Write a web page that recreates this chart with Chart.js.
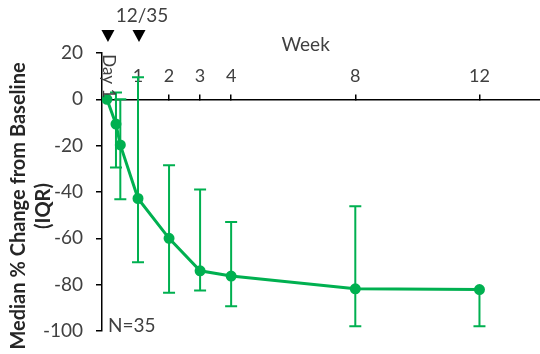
<!DOCTYPE html>
<html>
<head>
<meta charset="utf-8">
<script src="https://cdn.jsdelivr.net/npm/chart.js@4"></script>
<style>
  body { margin: 0; background: #fff; }
  canvas { display: block; }
</style>
</head>
<body>
<canvas id="myChart" width="540" height="354"></canvas>
<script>
// values
const weeks = [0, 0.29, 0.43, 1, 2, 3, 4, 8, 12];
const medianChange = [0, -10.7, -19.7, -42.8, -60, -74, -76.3, -81.8, -82.1];
const upperQuartile = [null, 2.9, 0, 9.5, -28.4, -38.9, -52.9, -46.1, -82.1];
const lowerQuartile = [null, -29.4, -43.1, -70.3, -83.5, -82.5, -89.3, -98, -98];
const weekTicks = [1, 2, 3, 4, 8, 12];
const yTicks = [20, 0, -20, -40, -60, -80, -100];
const doseWeeks = [0, 1];
const doseLabel = "12/35";
const nLabel = "N=35";
const dayLabel = "Day 1";
const xTitle = "Week";
const yTitle = ["Median % Change from Baseline", "(IQR)"];

const green = "#00b050";
const textColor = "#404040";
const fontName = "Lato";

const annotations = {
  id: "annotations",
  beforeDatasetsDraw: (chart) => {
    const { ctx } = chart;
    const xs = chart.scales.x;
    const ys = chart.scales.y;
    ctx.save();
    ctx.strokeStyle = green;
    ctx.lineWidth = 2;
    weeks.forEach((w, i) => {
      if (lowerQuartile[i] === null) return;
      const px = xs.getPixelForValue(w);
      const top = ys.getPixelForValue(upperQuartile[i]);
      const bottom = ys.getPixelForValue(lowerQuartile[i]);
      ctx.beginPath();
      ctx.moveTo(px, top);
      ctx.lineTo(px, bottom);
      if (upperQuartile[i] !== medianChange[i]) {
        ctx.moveTo(px - 6, top);
        ctx.lineTo(px + 6, top);
      }
      ctx.moveTo(px - 6, bottom);
      ctx.lineTo(px + 6, bottom);
      ctx.stroke();
    });
    ctx.restore();
  },
  afterDraw: (chart) => {
    const { ctx, chartArea } = chart;
    const xs = chart.scales.x;
    const ys = chart.scales.y;
    const zero = ys.getPixelForValue(0);
    ctx.save();
    ctx.fillStyle = "#000";
    doseWeeks.forEach((w) => {
      const px = xs.getPixelForValue(w) + 1;
      ctx.beginPath();
      ctx.moveTo(px - 6.5, 30);
      ctx.lineTo(px + 6.5, 30);
      ctx.lineTo(px, 42);
      ctx.closePath();
      ctx.fill();
    });
    ctx.fillStyle = textColor;
    ctx.font = `19px ${fontName}`;
    ctx.textAlign = "center";
    ctx.textBaseline = "middle";
    ctx.fillText(doseLabel, xs.getPixelForValue(doseWeeks[1]) + 4, 16);
    ctx.fillText(xTitle, xs.getPixelForValue(6.4), chartArea.top - 8);
    ctx.textAlign = "left";
    ctx.fillText(nLabel, chartArea.left + 6, chartArea.bottom - 5);

    // y axis title, two lines, rotated
    ctx.save();
    ctx.translate(19, (chartArea.top + chartArea.bottom) / 2 + 14);
    ctx.rotate(-Math.PI / 2);
    ctx.textAlign = "center";
    ctx.fillStyle = "#262626";
    ctx.font = `bold 20px ${fontName}`;
    yTitle.forEach((line, i) => ctx.fillText(line, 0, i * 25));
    ctx.restore();

    ctx.translate(xs.getPixelForValue(0) + 2, zero - 23);
    ctx.rotate(Math.PI / 2);
    ctx.textAlign = "center";
    ctx.font = `17px ${fontName}`;
    ctx.fillText(dayLabel, 0, 0);
    ctx.restore();
  }
};

new Chart(document.getElementById("myChart"), {
  type: "line",
  data: {
    datasets: [
      {
        data: weeks.map((w, i) => ({ x: w, y: medianChange[i] })),
        borderColor: green,
        backgroundColor: green,
        borderWidth: 3,
        pointRadius: 4,
        pointHoverRadius: 4,
        tension: 0,
      },
    ],
  },
  options: {
    responsive: false,
    animation: false,
    devicePixelRatio: 1,
    layout: { autoPadding: false, padding: { top: 53, right: 0, bottom: 23, left: 0 } },
    plugins: { legend: { display: false }, tooltip: { enabled: false } },
    scales: {
      x: {
        type: "linear",
        position: { y: 0 },
        min: -0.16,
        max: 13.95,
        afterBuildTicks: (s) => {
          s.ticks = weekTicks.map((v) => ({ value: v }));
        },
        afterFit: (s) => {
          s.paddingLeft = 0;
          s.paddingRight = 0;
        },
        grid: { drawOnChartArea: false, drawTicks: true, tickLength: -6, color: "#000", lineWidth: 1.5 },
        border: { display: true, color: "#000", width: 1.5 },
        ticks: { padding: -28, color: textColor, font: { family: fontName, size: 18 }, maxRotation: 0, autoSkip: false },
      },
      y: {
        min: -100,
        max: 20,
        afterBuildTicks: (s) => {
          s.ticks = yTicks.map((v) => ({ value: v }));
        },
        afterFit: (s) => {
          s.width = 102;
          s.paddingTop = 0;
          s.paddingBottom = 0;
        },
        grid: { drawOnChartArea: false, tickLength: 6, color: "#000", lineWidth: 1.5 },
        border: { color: "#000", width: 1.5 },
        ticks: { padding: 13, color: textColor, font: { family: fontName, size: 19 } },
      },
    },
  },
  plugins: [annotations],
});
</script>
</body>
</html>
